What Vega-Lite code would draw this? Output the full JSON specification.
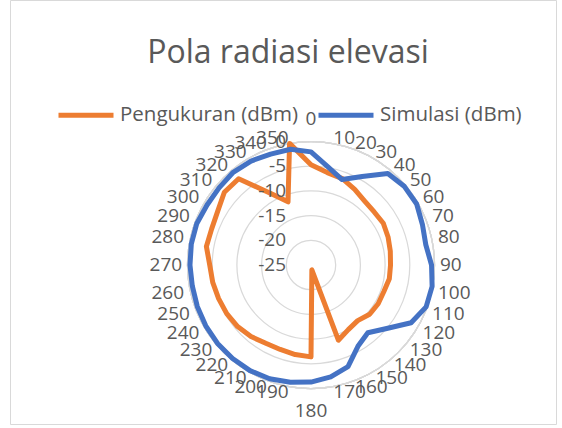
{
  "$schema": "https://vega.github.io/schema/vega-lite/v6.json",
  "width": 546,
  "height": 424,
  "autosize": {"type": "none"},
  "padding": {"left": 10, "top": 0, "right": 6, "bottom": 4},
  "background": "white",
  "view": {"stroke": "#d9d9d9", "strokeWidth": 1},
  "title": {
    "text": "Pola radiasi elevasi",
    "font": "Open Sans",
    "fontSize": 32,
    "fontWeight": "normal",
    "color": "#595959",
    "anchor": "middle",
    "offset": -70,
    "dx": 5
  },
  "config": {
    "text": {"font": "Open Sans", "fontSize": 19, "fill": "#595959"}
  },
  "datasets": {
    "pola": [
      {"sudut": 0, "Pengukuran (dBm)": -4.7, "Simulasi (dBm)": -2.1},
      {"sudut": 10, "Pengukuran (dBm)": -6.0, "Simulasi (dBm)": -4.9},
      {"sudut": 20, "Pengukuran (dBm)": -6.4, "Simulasi (dBm)": -6.6},
      {"sudut": 30, "Pengukuran (dBm)": -7.3, "Simulasi (dBm)": -4.3},
      {"sudut": 40, "Pengukuran (dBm)": -8.1, "Simulasi (dBm)": -0.8},
      {"sudut": 50, "Pengukuran (dBm)": -8.3, "Simulasi (dBm)": -0.3},
      {"sudut": 60, "Pengukuran (dBm)": -8.1, "Simulasi (dBm)": -0.3},
      {"sudut": 70, "Pengukuran (dBm)": -8.4, "Simulasi (dBm)": -1.0},
      {"sudut": 80, "Pengukuran (dBm)": -8.7, "Simulasi (dBm)": -1.4},
      {"sudut": 90, "Pengukuran (dBm)": -8.9, "Simulasi (dBm)": -0.6},
      {"sudut": 100, "Pengukuran (dBm)": -8.9, "Simulasi (dBm)": -0.1},
      {"sudut": 110, "Pengukuran (dBm)": -9.3, "Simulasi (dBm)": -0.2},
      {"sudut": 120, "Pengukuran (dBm)": -9.3, "Simulasi (dBm)": -1.6},
      {"sudut": 130, "Pengukuran (dBm)": -9.5, "Simulasi (dBm)": -5.0},
      {"sudut": 140, "Pengukuran (dBm)": -10.3, "Simulasi (dBm)": -7.1},
      {"sudut": 150, "Pengukuran (dBm)": -9.9, "Simulasi (dBm)": -6.0},
      {"sudut": 160, "Pengukuran (dBm)": -8.8, "Simulasi (dBm)": -3.1},
      {"sudut": 170, "Pengukuran (dBm)": -24.0, "Simulasi (dBm)": -2.0},
      {"sudut": 180, "Pengukuran (dBm)": -6.4, "Simulasi (dBm)": -1.3},
      {"sudut": 190, "Pengukuran (dBm)": -6.6, "Simulasi (dBm)": -0.9},
      {"sudut": 200, "Pengukuran (dBm)": -6.8, "Simulasi (dBm)": -0.5},
      {"sudut": 210, "Pengukuran (dBm)": -6.7, "Simulasi (dBm)": -0.3},
      {"sudut": 220, "Pengukuran (dBm)": -6.1, "Simulasi (dBm)": -0.3},
      {"sudut": 230, "Pengukuran (dBm)": -5.6, "Simulasi (dBm)": -0.3},
      {"sudut": 240, "Pengukuran (dBm)": -5.3, "Simulasi (dBm)": -0.4},
      {"sudut": 250, "Pengukuran (dBm)": -5.1, "Simulasi (dBm)": -0.5},
      {"sudut": 260, "Pengukuran (dBm)": -4.8, "Simulasi (dBm)": -0.6},
      {"sudut": 270, "Pengukuran (dBm)": -4.5, "Simulasi (dBm)": -0.5},
      {"sudut": 280, "Pengukuran (dBm)": -3.5, "Simulasi (dBm)": -0.4},
      {"sudut": 290, "Pengukuran (dBm)": -3.6, "Simulasi (dBm)": -0.4},
      {"sudut": 300, "Pengukuran (dBm)": -3.2, "Simulasi (dBm)": -0.7},
      {"sudut": 310, "Pengukuran (dBm)": -2.1, "Simulasi (dBm)": -0.7},
      {"sudut": 320, "Pengukuran (dBm)": -2.2, "Simulasi (dBm)": -0.5},
      {"sudut": 330, "Pengukuran (dBm)": -8.1, "Simulasi (dBm)": -0.7},
      {"sudut": 340, "Pengukuran (dBm)": -11.4, "Simulasi (dBm)": -1.1},
      {"sudut": 350, "Pengukuran (dBm)": 0, "Simulasi (dBm)": -1.2}
    ],
    "cincin": [
      {"level": -25},
      {"level": -20},
      {"level": -15},
      {"level": -10},
      {"level": -5},
      {"level": 0}
    ]
  },
  "layer": [
    {
      "data": {"name": "cincin"},
      "transform": [{"filter": "datum.level > -25"}],
      "mark": {"type": "arc", "filled": false, "fill": null, "stroke": "#d9d9d9", "strokeWidth": 1.25, "theta": 0, "theta2": 6.2832},
      "encoding": {
        "x": {"datum": 0, "type": "quantitative", "scale": {"domain": [-60.931, 49.595], "nice": false, "zero": false}, "axis": null},
        "y": {"datum": 0, "type": "quantitative", "scale": {"domain": [-32.186, 53.644], "nice": false, "zero": false}, "axis": null},
        "radius": {"field": "level", "type": "quantitative", "stack": null, "scale": {"type": "linear", "domain": [-25, 0], "range": [0, 123.5], "zero": false, "nice": false}, "legend": null}
      }
    },
    {
      "data": {"name": "pola"},
      "transform": [
        {"fold": ["Pengukuran (dBm)", "Simulasi (dBm)"], "as": ["seri", "dBm"]},
        {"calculate": "datum.sudut * PI / 180", "as": "rad"},
        {"calculate": "(datum.dBm + 25) * sin(datum.rad)", "as": "px"},
        {"calculate": "(datum.dBm + 25) * cos(datum.rad)", "as": "py"}
      ],
      "mark": {"type": "line", "interpolate": "linear-closed", "strokeWidth": 5, "strokeJoin": "round", "strokeCap": "round"},
      "encoding": {
        "x": {"field": "px", "type": "quantitative", "scale": {"domain": [-60.931, 49.595], "nice": false, "zero": false}, "axis": null},
        "y": {"field": "py", "type": "quantitative", "scale": {"domain": [-32.186, 53.644], "nice": false, "zero": false}, "axis": null},
        "order": {"field": "sudut", "type": "quantitative"},
        "color": {
          "field": "seri",
          "type": "nominal",
          "scale": {"domain": ["Pengukuran (dBm)", "Simulasi (dBm)"], "range": ["#ED7D31", "#4472C4"]},
          "legend": {
            "orient": "none",
            "legendX": 46,
            "legendY": 85,
            "direction": "horizontal",
            "title": null,
            "symbolType": "stroke",
            "symbolStrokeWidth": 5,
            "symbolSize": 3025,
            "labelFont": "Open Sans",
            "labelFontSize": 20.5,
            "labelColor": "#595959",
            "labelLimit": 300,
            "labelOffset": 4,
            "columnPadding": 10
          }
        }
      }
    },
    {
      "data": {"name": "cincin"},
      "transform": [{"calculate": "datum.level + 25", "as": "ly"}],
      "mark": {"type": "text", "align": "right", "baseline": "middle", "dx": -25},
      "encoding": {
        "x": {"datum": 0, "type": "quantitative", "scale": {"domain": [-60.931, 49.595], "nice": false, "zero": false}, "axis": null},
        "y": {"field": "ly", "type": "quantitative", "scale": {"domain": [-32.186, 53.644], "nice": false, "zero": false}, "axis": null},
        "text": {"field": "level", "type": "nominal"}
      }
    },
    {
      "data": {"name": "pola"},
      "transform": [
        {"calculate": "datum.sudut * PI / 180", "as": "rad"},
        {"calculate": "datum.sudut == 0 || datum.sudut == 180 ? 0 : (datum.sudut < 180 ? 1 : -1)", "as": "sx"},
        {"calculate": "datum.sudut == 90 || datum.sudut == 270 ? 0 : (datum.sudut < 90 || datum.sudut > 270 ? 1 : -1)", "as": "sy"},
        {"calculate": "26.11 * sin(datum.rad) + datum.sx * length(toString(datum.sudut)) * 1.093", "as": "lx"},
        {"calculate": "(datum.sx == 0 ? 28.14 : 24.7) * cos(datum.rad) + datum.sy * 1.417", "as": "ly"}
      ],
      "mark": {"type": "text", "align": "center", "baseline": "middle"},
      "encoding": {
        "x": {"field": "lx", "type": "quantitative", "scale": {"domain": [-60.931, 49.595], "nice": false, "zero": false}, "axis": null},
        "y": {"field": "ly", "type": "quantitative", "scale": {"domain": [-32.186, 53.644], "nice": false, "zero": false}, "axis": null},
        "text": {"field": "sudut", "type": "nominal"}
      }
    }
  ]
}
